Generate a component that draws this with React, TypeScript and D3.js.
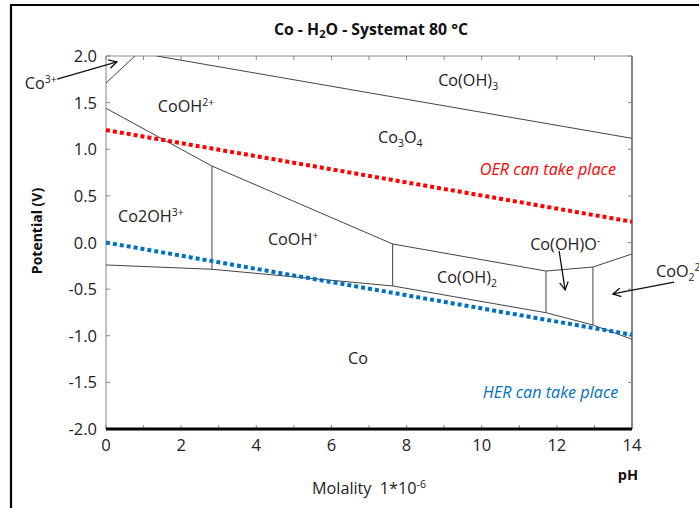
import React from "react";
import * as d3 from "d3";

const W = 699;
const H = 508;
const margin = { left: 106, top: 56, right: 67, bottom: 79 };

// axis ticks
const xTicks = [0, 2, 4, 6, 8, 10, 12, 14];
const xMinor = d3.range(0, 15);
const yTicks = [2.0, 1.5, 1.0, 0.5, 0.0, -0.5, -1.0, -1.5, -2.0];

// phase boundaries, [pH, E]
const co3Line: [number, number][] = [[0, 1.71], [0.77, 2.0]];
const coOH3Line: [number, number][] = [[1.35, 2.0], [14, 1.117]];
const upperLine: [number, number][] = [
  [0, 1.439], [2.82, 0.82], [7.63, -0.016], [11.71, -0.306], [12.96, -0.263], [14, -0.123],
];
const lowerLine: [number, number][] = [
  [0, -0.241], [2.82, -0.287], [7.63, -0.466], [11.71, -0.753], [12.96, -0.885], [14, -1.038],
];
// verticals: pH, top E, bottom E
const verticals: [number, number, number][] = [
  [2.82, 0.82, -0.287],
  [7.63, -0.016, -0.466],
  [11.71, -0.306, -0.753],
  [12.96, -0.263, -0.885],
];

// water stability lines
const oerLine: [number, number][] = [[0, 1.206], [14, 0.223]];
const herLine: [number, number][] = [[0, 0.0], [14, -0.99]];

type Part = { t: string; s?: "sub" | "sup" };
const labels: { at: [number, number]; parts: Part[] }[] = [
  { at: [-2.16, 1.646], parts: [{ t: "Co" }, { t: "3+", s: "sup" }] },
  { at: [1.38, 1.399], parts: [{ t: "CoOH" }, { t: "2+", s: "sup" }] },
  { at: [8.84, 1.678], parts: [{ t: "Co(OH)" }, { t: "3", s: "sub" }] },
  { at: [7.24, 1.067], parts: [{ t: "Co" }, { t: "3", s: "sub" }, { t: "O" }, { t: "4", s: "sub" }] },
  { at: [0.32, 0.22], parts: [{ t: "Co2OH" }, { t: "3+", s: "sup" }] },
  { at: [4.31, -0.027], parts: [{ t: "CoOH" }, { t: "+", s: "sup" }] },
  { at: [8.81, -0.434], parts: [{ t: "Co(OH)" }, { t: "2", s: "sub" }] },
  { at: [11.29, -0.08], parts: [{ t: "Co(OH)O" }, { t: "-", s: "sup" }] },
  { at: [14.64, -0.37], parts: [{ t: "CoO" }, { t: "2", s: "sub" }, { t: "2-", s: "sup" }] },
  { at: [6.44, -1.303], parts: [{ t: "Co" }] },
];

const arrows: [[number, number], [number, number]][] = [
  [[-1.3, 1.753], [0.29, 1.936]],
  [[12.06, -0.091], [12.22, -0.509]],
  [[15.12, -0.424], [13.49, -0.552]],
];

const font = "'Open Sans', sans-serif";
const fs = 16.2;
const small = 10.5;

function head(x1: number, y1: number, x2: number, y2: number) {
  const a = Math.atan2(y2 - y1, x2 - x1);
  const L = 9;
  const sp = 0.5;
  const p1 = [x2 - L * Math.cos(a - sp), y2 - L * Math.sin(a - sp)];
  const p2 = [x2 - L * Math.cos(a + sp), y2 - L * Math.sin(a + sp)];
  return `M${p1[0]},${p1[1]}L${x2},${y2}L${p2[0]},${p2[1]}`;
}

export default function App() {
  const iw = W - margin.left - margin.right;
  const ih = H - margin.top - margin.bottom;
  const x = d3.scaleLinear().domain([0, 14]).range([margin.left, margin.left + iw]);
  const y = d3.scaleLinear().domain([-2, 2]).range([margin.top + ih, margin.top]);
  const line = d3.line<[number, number]>().x((d) => x(d[0])).y((d) => y(d[1]));
  const x0 = x(0), x1 = x(14), y0 = y(-2), y1 = y(2);

  return (
    <svg width={W} height={H} style={{ position: "absolute", left: 0, top: 0, background: "#fff" }} fontFamily={font}>
      <defs>
        <clipPath id="plot">
          <rect x={x0} y={y1} width={x1 - x0} height={y0 - y1} />
        </clipPath>
      </defs>
      {/* outer frame */}
      <line x1={11} y1={5} x2={W} y2={5} stroke="#000" strokeWidth={2.2} />
      <line x1={11} y1={4} x2={11} y2={H} stroke="#000" strokeWidth={2.2} />

      <text x={371} y={35} textAnchor="middle" fontSize={15.8} fontWeight="bold" fill="#111">
        Co - H<tspan fontSize={11} dy={3}>2</tspan>
        <tspan dy={-3}>O - Systemat 80 °C</tspan>
      </text>

      {/* axes */}
      <line x1={x0} y1={y1} x2={x1} y2={y1} stroke="#888" strokeWidth={1} />
      <line x1={x0} y1={y1} x2={x0} y2={y0} stroke="#888" strokeWidth={1} />
      <line x1={x1} y1={y1} x2={x1} y2={y0} stroke="#333" strokeWidth={1.2} />
      {xMinor.map((t) => (
        <g key={"xt" + t}>
          <line x1={x(t)} x2={x(t)} y1={y1} y2={y1 + 4} stroke="#888" />
          <line x1={x(t)} x2={x(t)} y1={y0} y2={y0 - 4} stroke="#888" />
        </g>
      ))}
      {yTicks.map((t) => (
        <g key={"yt" + t}>
          <line x1={x0} x2={x0 + 4} y1={y(t)} y2={y(t)} stroke="#888" />
          <line x1={x1} x2={x1 - 4} y1={y(t)} y2={y(t)} stroke="#888" />
          <text x={97} y={y(t) + 6} textAnchor="end" fontSize={16.5} fill="#222">
            {t.toFixed(1)}
          </text>
        </g>
      ))}
      {xTicks.map((t) => (
        <text key={"xl" + t} x={x(t)} y={451} textAnchor="middle" fontSize={16.5} fill="#222">
          {t}
        </text>
      ))}
      <line x1={x0} y1={y0} x2={x1} y2={y0} stroke="#000" strokeWidth={3} />

      {/* boundaries */}
      <g clipPath="url(#plot)" fill="none" stroke="#444" strokeWidth={1}>
        <path d={line(co3Line) || ""} />
        <path d={line(coOH3Line) || ""} />
        <path d={line(upperLine) || ""} />
        <path d={line(lowerLine) || ""} />
        {verticals.map((v, i) => (
          <line key={i} x1={x(v[0])} x2={x(v[0])} y1={y(v[1])} y2={y(v[2])} />
        ))}
      </g>
      <path d={line(oerLine) || ""} fill="none" stroke="#ff0000" strokeWidth={4} strokeDasharray="4 3" />
      <path d={line(herLine) || ""} fill="none" stroke="#0070c0" strokeWidth={4} strokeDasharray="4 3" />

      {/* labels */}
      {labels.map((l, i) => (
        <text key={i} x={x(l.at[0])} y={y(l.at[1])} fontSize={fs} fill="#222">
          {l.parts.map((p, j) => {
            const prev = j > 0 ? l.parts[j - 1].s : undefined;
            const back = prev === "sub" ? -4 : prev === "sup" ? 6 : 0;
            if (p.s === "sub")
              return <tspan key={j} fontSize={small} dy={4 + back}>{p.t}</tspan>;
            if (p.s === "sup")
              return <tspan key={j} fontSize={small} dy={-6 + back}>{p.t}</tspan>;
            return <tspan key={j} dy={back}>{p.t}</tspan>;
          })}
        </text>
      ))}
      {arrows.map((a, i) => {
        const ax = x(a[0][0]), ay = y(a[0][1]), bx = x(a[1][0]), by = y(a[1][1]);
        return (
          <g key={"ar" + i} fill="none" stroke="#111" strokeWidth={1.3}>
            <line x1={ax} y1={ay} x2={bx} y2={by} />
            <path d={head(ax, ay, bx, by)} />
          </g>
        );
      })}

      <text x={x(9.95)} y={y(0.724)} fontSize={fs} fontStyle="italic" fill="#ff0000">
        OER can take place
      </text>
      <text x={x(10.03)} y={y(-1.668)} fontSize={fs} fontStyle="italic" fill="#0070c0">
        HER can take place
      </text>

      <text transform={`translate(42,231) rotate(-90)`} textAnchor="middle" fontSize={14} fontWeight="bold" fill="#111">
        Potential (V)
      </text>
      <text x={628} y={480} textAnchor="middle" fontSize={14.5} fontWeight="bold" fill="#111">
        pH
      </text>
      <text x={312} y={494} fontSize={fs} fill="#222">
        Molality{"\u00a0\u00a0"}1*10<tspan fontSize={small} dy={-6}>-6</tspan>
      </text>
    </svg>
  );
}
